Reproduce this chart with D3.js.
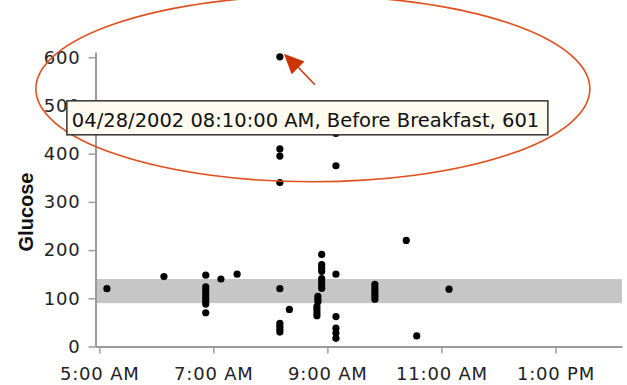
<!DOCTYPE html>
<html>
<head>
<meta charset="utf-8">
<script src="https://cdn.jsdelivr.net/npm/d3@7"></script>
<style>
  html, body { margin: 0; padding: 0; background: #fff; }
  svg { display: block; }
  .tick text { font-family: "DejaVu Sans", sans-serif; fill: #222; }
</style>
</head>
<body>
<svg id="chart" width="627" height="385"></svg>
<script>
// Glucose readings for one day: time of reading and value (mg/dL)
const readingTimes = [
  "05:08", "06:08",
  "06:52", "06:52", "06:52", "06:52", "06:52", "06:52", "06:52", "06:52", "06:52",
  "07:08", "07:25",
  "08:10", "08:10", "08:10", "08:10", "08:10", "08:10", "08:10", "08:10", "08:10",
  "08:20",
  "08:49", "08:49", "08:49", "08:49",
  "08:50", "08:50", "08:50",
  "08:54", "08:54", "08:54", "08:54", "08:54", "08:54", "08:54", "08:54",
  "09:09", "09:09", "09:09", "09:09", "09:09", "09:09", "09:09",
  "09:50", "09:50", "09:50", "09:50", "09:50", "09:50",
  "10:23", "10:34", "11:08"
];
const glucoseValues = [
  120, 145,
  148, 124, 117, 111, 105, 99, 93, 88, 70,
  140, 150,
  601, 410, 395, 340, 120, 48, 42, 36, 30,
  77,
  83, 77, 70, 64,
  104, 98, 93,
  191, 170, 163, 156, 141, 134, 127, 121,
  442, 375, 150, 62, 38, 28, 17,
  129, 122, 116, 110, 104, 98,
  220, 22, 119
];
// Target range band (low, high)
const targetRange = [90, 140];
// Axis ticks
const yTickValues = [0, 100, 200, 300, 400, 500, 600];
const xTickTimes = ["05:00", "07:00", "09:00", "11:00", "13:00"];
// Highlighted reading shown in the hover box
const highlight = { date: "04/28/2002", time: "08:10", meal: "Before Breakfast", value: 601 };

const day = "2002-04-28";
const parseT = d3.timeParse("%Y-%m-%d %H:%M");
const toDate = t => parseT(day + " " + t);

const svg = d3.select("#chart");

const x = d3.scaleTime()
  .domain([toDate("04:56"), toDate("14:10")])
  .range([95.5, 622]);
const y = d3.scaleLinear()
  .domain([0, 611])
  .range([346.5, 52]);

// target band
svg.append("rect")
  .attr("x", x.range()[0])
  .attr("width", x.range()[1] - x.range()[0])
  .attr("y", y(targetRange[1]))
  .attr("height", y(targetRange[0]) - y(targetRange[1]))
  .attr("fill", "#c6c6c6");

// axes
const yAxis = d3.axisLeft(y)
  .tickValues(yTickValues)
  .tickSize(7)
  .tickSizeOuter(0)
  .tickPadding(8)
  .tickFormat(d3.format("d"));
const gy = svg.append("g")
  .attr("transform", `translate(${x.range()[0]},0)`)
  .call(yAxis);

const xAxis = d3.axisBottom(x)
  .tickValues(xTickTimes.map(toDate))
  .tickSize(7)
  .tickSizeOuter(0)
  .tickPadding(8)
  .tickFormat(d3.timeFormat("%-I:%M %p"));
const gx = svg.append("g")
  .attr("transform", `translate(0,${y.range()[0]})`)
  .call(xAxis);

[gx, gy].forEach(g => {
  g.select(".domain").attr("stroke", "#9a9a9a").attr("stroke-width", 2);
  g.selectAll(".tick line").attr("stroke", "#9a9a9a").attr("stroke-width", 1.5);
  g.selectAll(".tick text").attr("font-size", 18).attr("letter-spacing", 0.8);
});
gx.selectAll(".tick text").attr("dy", "1em");

// y axis title
svg.append("text")
  .attr("transform", "translate(33,212) rotate(-90)")
  .attr("text-anchor", "middle")
  .attr("font-family", "Liberation Sans, Arial, sans-serif")
  .attr("font-weight", "bold")
  .attr("font-size", 20)
  .attr("fill", "#111")
  .text("Glucose");

// readings
const points = readingTimes.map((t, i) => ({ t: toDate(t), v: glucoseValues[i] }));
svg.append("g")
  .selectAll("circle")
  .data(points)
  .join("circle")
  .attr("cx", d => x(d.t))
  .attr("cy", d => y(d.v))
  .attr("r", 3.6)
  .attr("fill", "#000");

// highlighted reading: callout ellipse, arrow and hover box
const hx = x(toDate(highlight.time));
const hy = y(highlight.value);

svg.append("ellipse")
  .attr("cx", hx + 33)
  .attr("cy", hy + 32)
  .attr("rx", 277)
  .attr("ry", 93)
  .attr("fill", "none")
  .attr("stroke", "#e0501e")
  .attr("stroke-width", 1.6);

const defs = svg.append("defs");
defs.append("marker")
  .attr("id", "arrowhead")
  .attr("viewBox", "0 0 10 10")
  .attr("refX", 10).attr("refY", 5)
  .attr("markerWidth", 6).attr("markerHeight", 6)
  .attr("markerUnits", "userSpaceOnUse")
  .attr("orient", "auto")
  .append("path")
  .attr("d", "M0,0 L10,5 L0,10 Z")
  .attr("fill", "#cc3300");
const ax0 = hx + 35, ay0 = hy + 28, ax1 = hx + 4, ay1 = hy - 3;
svg.append("line")
  .attr("x1", ax0).attr("y1", ay0)
  .attr("x2", ax1 + 12).attr("y2", ay1 + 11)
  .attr("stroke", "#cc3300")
  .attr("stroke-width", 1.5);
// arrowhead triangle
const ang = Math.atan2(ay1 - ay0, ax1 - ax0);
const L = 20, W = 9;
const bx = ax1 - L * Math.cos(ang), by = ay1 - L * Math.sin(ang);
const px = -Math.sin(ang) * W, py = Math.cos(ang) * W;
svg.append("path")
  .attr("d", `M${ax1},${ay1} L${bx + px},${by + py} L${bx - px},${by - py} Z`)
  .attr("fill", "#cc3300");

const tip = svg.append("g").attr("transform", `translate(${hx - 213},${hy + 44})`);
const tipText = `${highlight.date} ${highlight.time}:00 AM, ${highlight.meal}, ${highlight.value}`;
tip.append("rect")
  .attr("x", 0).attr("y", 0)
  .attr("width", 481).attr("height", 34)
  .attr("fill", "#fffbf0")
  .attr("stroke", "#333")
  .attr("stroke-width", 1.5);
tip.append("text")
  .attr("x", 5).attr("y", 26)
  .attr("font-family", "DejaVu Sans, sans-serif")
  .attr("font-size", 19.5)
  .attr("fill", "#111")
  .text(tipText);
</script>
</body>
</html>
